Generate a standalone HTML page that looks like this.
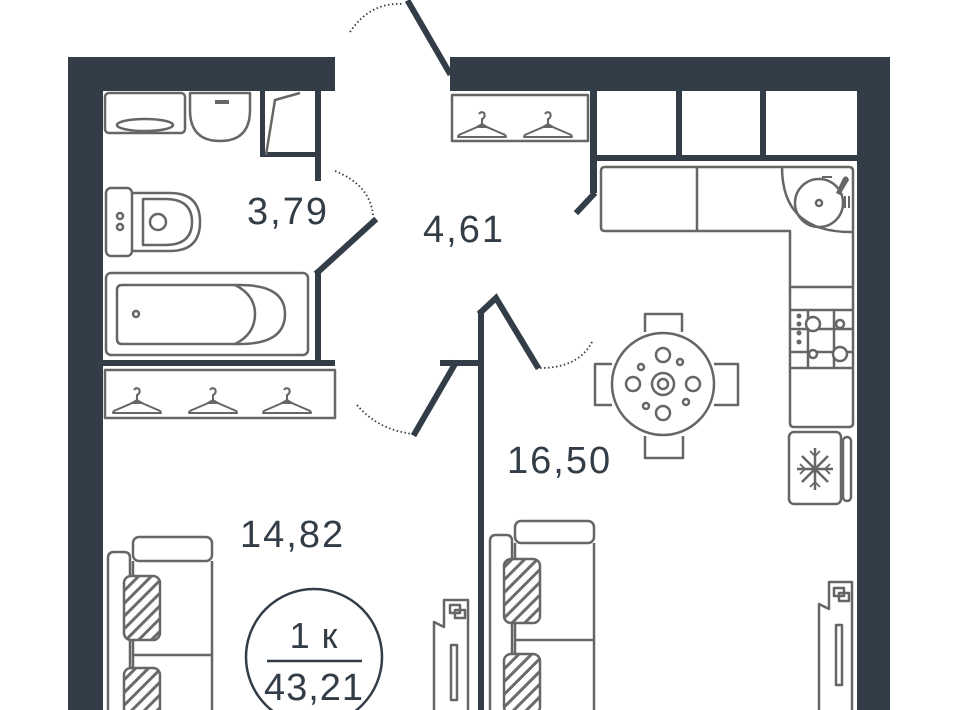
<!DOCTYPE html>
<html><head><meta charset="utf-8"><style>
html,body{margin:0;padding:0;background:#fff;}
svg{display:block;}
text{font-family:"Liberation Sans",sans-serif;fill:#333d47;}
</style></head><body>
<svg width="960" height="710" viewBox="0 0 960 710" xmlns="http://www.w3.org/2000/svg">
<defs>
<pattern id="h" patternUnits="userSpaceOnUse" width="9" height="9" patternTransform="rotate(-45)">
<rect width="9" height="9" fill="#fff"/><rect width="9" height="3" fill="#6b6b6b"/>
</pattern>
<g id="hanger" fill="none" stroke="#666" stroke-width="2">
<path d="M0,12 Q0,10 3,9 L24,0 L45,9 Q48,10 48,12 Z" stroke-linejoin="round"/>
<path d="M24,0 L24,-6 Q28,-8 26,-12 Q23,-14 21,-11"/>
<path d="M19,2 L24,-1 L29,2 Z" fill="#666"/>
</g>
</defs>
<g fill="#333d47">
<rect x="68" y="57" width="35" height="653"/>
<rect x="68" y="57" width="267" height="34"/>
<rect x="450" y="57" width="440" height="34"/>
<rect x="857" y="57" width="33" height="653"/>
<rect x="315" y="91" width="6" height="90"/>
<rect x="260" y="91" width="5" height="66"/>
<rect x="260" y="152" width="61" height="5"/>
<rect x="315" y="270" width="6" height="94"/>
<rect x="103" y="360" width="232" height="6"/>
<rect x="440" y="360" width="42" height="6"/>
<rect x="478" y="310" width="6" height="400"/>
<rect x="590" y="91" width="7" height="102"/>
<rect x="590" y="155" width="267" height="6"/>
<rect x="676" y="91" width="6" height="66"/>
<rect x="760" y="91" width="6" height="66"/>
</g>
<g stroke="#333d47" stroke-width="6" fill="none" stroke-linecap="square">
<line x1="409" y1="3" x2="449" y2="72"/>
<line x1="374" y1="221" x2="318" y2="272"/>
<line x1="455" y1="364" x2="415" y2="433"/>
<polyline points="481,312 496,298 537,366" stroke-linejoin="miter"/>
<line x1="593" y1="195" x2="578" y2="211"/>
</g>
<g stroke="#333d47" stroke-width="1.8" fill="none" stroke-dasharray="1.5,2.5">
<path d="M350,32 Q370,2 403,4"/>
<path d="M335,171 Q370,185 373,215"/>
<path d="M357,405 Q378,430 413,434"/>
<path d="M540,368 Q580,368 593,340"/>
</g>
<g stroke="#666" stroke-width="2.5" fill="none" stroke-linejoin="round">
<rect x="105" y="93" width="80" height="40" rx="4"/>
<ellipse cx="145" cy="125" rx="28" ry="6"/>
<path d="M190,93 L250,93 L250,110 Q250,141 220,141 Q190,141 190,110 Z"/>
<path d="M266,155 L275,100 L300,93"/>
<rect x="106" y="188" width="26" height="68" rx="5"/>
<path d="M132,193 L170,193 Q200,193 200,222 Q200,251 170,251 L132,251"/>
<path d="M143,199 L165,199 Q192,199 192,222 Q192,245 165,245 L143,245 Z"/>
<circle cx="158" cy="222" r="8"/>
<circle cx="120" cy="216" r="3"/><circle cx="120" cy="227" r="3"/>
<rect x="106" y="273" width="202" height="82" rx="5"/>
<path d="M122,285 L240,285 Q285,285 285,314 Q285,344 240,344 L122,344 Q117,344 117,339 L117,290 Q117,285 122,285 Z"/>
<path d="M235,285 Q255,295 255,314 Q255,334 235,344"/>
<circle cx="136" cy="314" r="3"/>
<rect x="105" y="370" width="230" height="48"/>
<rect x="452" y="95" width="136" height="46"/>
<path d="M605,167 L849,167 Q853,167 853,171 L853,423 Q853,427 849,427 L794,427 Q790,427 790,423 L790,231 L605,231 Q601,231 601,227 L601,171 Q601,167 605,167 Z"/>
<line x1="697" y1="167" x2="697" y2="231"/>
<path d="M782,167 Q782,233 853,232"/>
<circle cx="819" cy="203" r="24"/><circle cx="819" cy="203" r="3"/>
<line x1="790" y1="287" x2="853" y2="287"/>
<line x1="790" y1="310" x2="853" y2="310"/>
<line x1="790" y1="368" x2="853" y2="368"/>
<line x1="790" y1="329" x2="853" y2="329"/><line x1="790" y1="352" x2="853" y2="352"/>
<line x1="808" y1="310" x2="808" y2="368"/><line x1="834" y1="310" x2="834" y2="368"/>
<circle cx="813" cy="324" r="7" fill="#fff"/><circle cx="840" cy="324" r="4" fill="#fff"/>
<circle cx="813" cy="354" r="4" fill="#fff"/><circle cx="840" cy="354" r="7" fill="#fff"/>
<rect x="789" y="432" width="52" height="72" rx="5"/>
<rect x="843" y="437" width="8" height="64" rx="4"/>
<circle cx="663" cy="384" r="51"/>
<path d="M645,332 L645,314 L682,314 L682,332"/>
<path d="M645,436 L645,458 L683,458 L683,436"/>
<path d="M612,364 L595,364 L595,405 L612,405"/>
<path d="M714,364 L738,364 L738,405 L714,405"/>
<circle cx="663" cy="384" r="11"/><circle cx="663" cy="384" r="5"/>
<circle cx="663" cy="355" r="7"/><circle cx="663" cy="413" r="7"/>
<circle cx="633" cy="384" r="7"/><circle cx="693" cy="384" r="7"/>
<circle cx="680" cy="362" r="3"/><circle cx="646" cy="406" r="3"/>
<circle cx="641" cy="367" r="3"/><circle cx="686" cy="402" r="3"/>
<rect x="133" y="537" width="79" height="24" rx="6"/>
<path d="M212,561 L212,712 M133,561 L133,712 M133,655 L212,655"/>
<path d="M108,712 L108,558 Q108,552 114,552 L124,552 Q130,552 130,558 L130,712"/>
<rect x="124" y="576" width="36" height="64" rx="7" fill="url(#h)"/>
<rect x="124" y="668" width="36" height="60" rx="7" fill="url(#h)"/>
<rect x="515" y="521" width="79" height="22" rx="6"/>
<path d="M594,543 L594,712 M515,543 L515,712 M515,640 L594,640"/>
<path d="M490,712 L490,541 Q490,535 496,535 L506,535 Q512,535 512,541 L512,712"/>
<rect x="504" y="559" width="36" height="64" rx="7" fill="url(#h)"/>
<rect x="504" y="654" width="36" height="60" rx="7" fill="url(#h)"/>
<path d="M434,712 L434,622 L444,627 L444,600 L468,600 L468,712"/>
<rect x="450" y="605" width="10" height="8"/><rect x="455" y="610" width="10" height="8"/>
<rect x="451" y="645" width="6" height="55"/>
<path d="M819,712 L819,604 L829,609 L829,582 L852,582 L852,712"/>
<rect x="834" y="588" width="10" height="8"/><rect x="839" y="593" width="10" height="8"/>
<rect x="836" y="625" width="6" height="60"/>
</g>
<g fill="#666">
<rect x="215" y="100" width="14" height="4"/>
<path d="M836,193 L843,178 Q847,174 849,180 L840,195 Z"/>
<rect x="844" y="196" width="2" height="12"/><rect x="848" y="196" width="2" height="12"/>
<rect x="822" y="176" width="10" height="2"/>
<circle cx="799" cy="316" r="2.5"/><circle cx="799" cy="324" r="2.5"/><circle cx="799" cy="333" r="2.5"/><circle cx="799" cy="342" r="2.5"/>
</g>
<g stroke="#666" stroke-width="2.5" fill="none">
<path d="M815,448 L815,490 M797,469 L833,469 M802,456 L828,482 M828,456 L802,482"/>
<path d="M810,451 L815,456 L820,451 M810,487 L815,482 L820,487 M800,464 L805,469 L800,474 M830,464 L825,469 L830,474" stroke-width="1.8"/>
</g>
<use href="#hanger" x="113" y="401"/><use href="#hanger" x="189" y="401"/><use href="#hanger" x="263" y="401"/>
<use href="#hanger" x="458" y="125"/><use href="#hanger" x="524" y="125"/>
<text x="247" y="224" font-size="38" letter-spacing="2">3,79</text>
<text x="423" y="242" font-size="38" letter-spacing="2">4,61</text>
<text x="507" y="473" font-size="38" letter-spacing="2">16,50</text>
<text x="240" y="547" font-size="38" letter-spacing="2">14,82</text>
<circle cx="314" cy="657" r="68" fill="none" stroke="#333d47" stroke-width="2.5"/>
<text x="314" y="648" font-size="36" text-anchor="middle" letter-spacing="1">1 к</text>
<line x1="267" y1="661" x2="362" y2="661" stroke="#333d47" stroke-width="2.5"/>
<text x="314" y="700" font-size="38" text-anchor="middle" letter-spacing="1">43,21</text>
</svg>
</body></html>
